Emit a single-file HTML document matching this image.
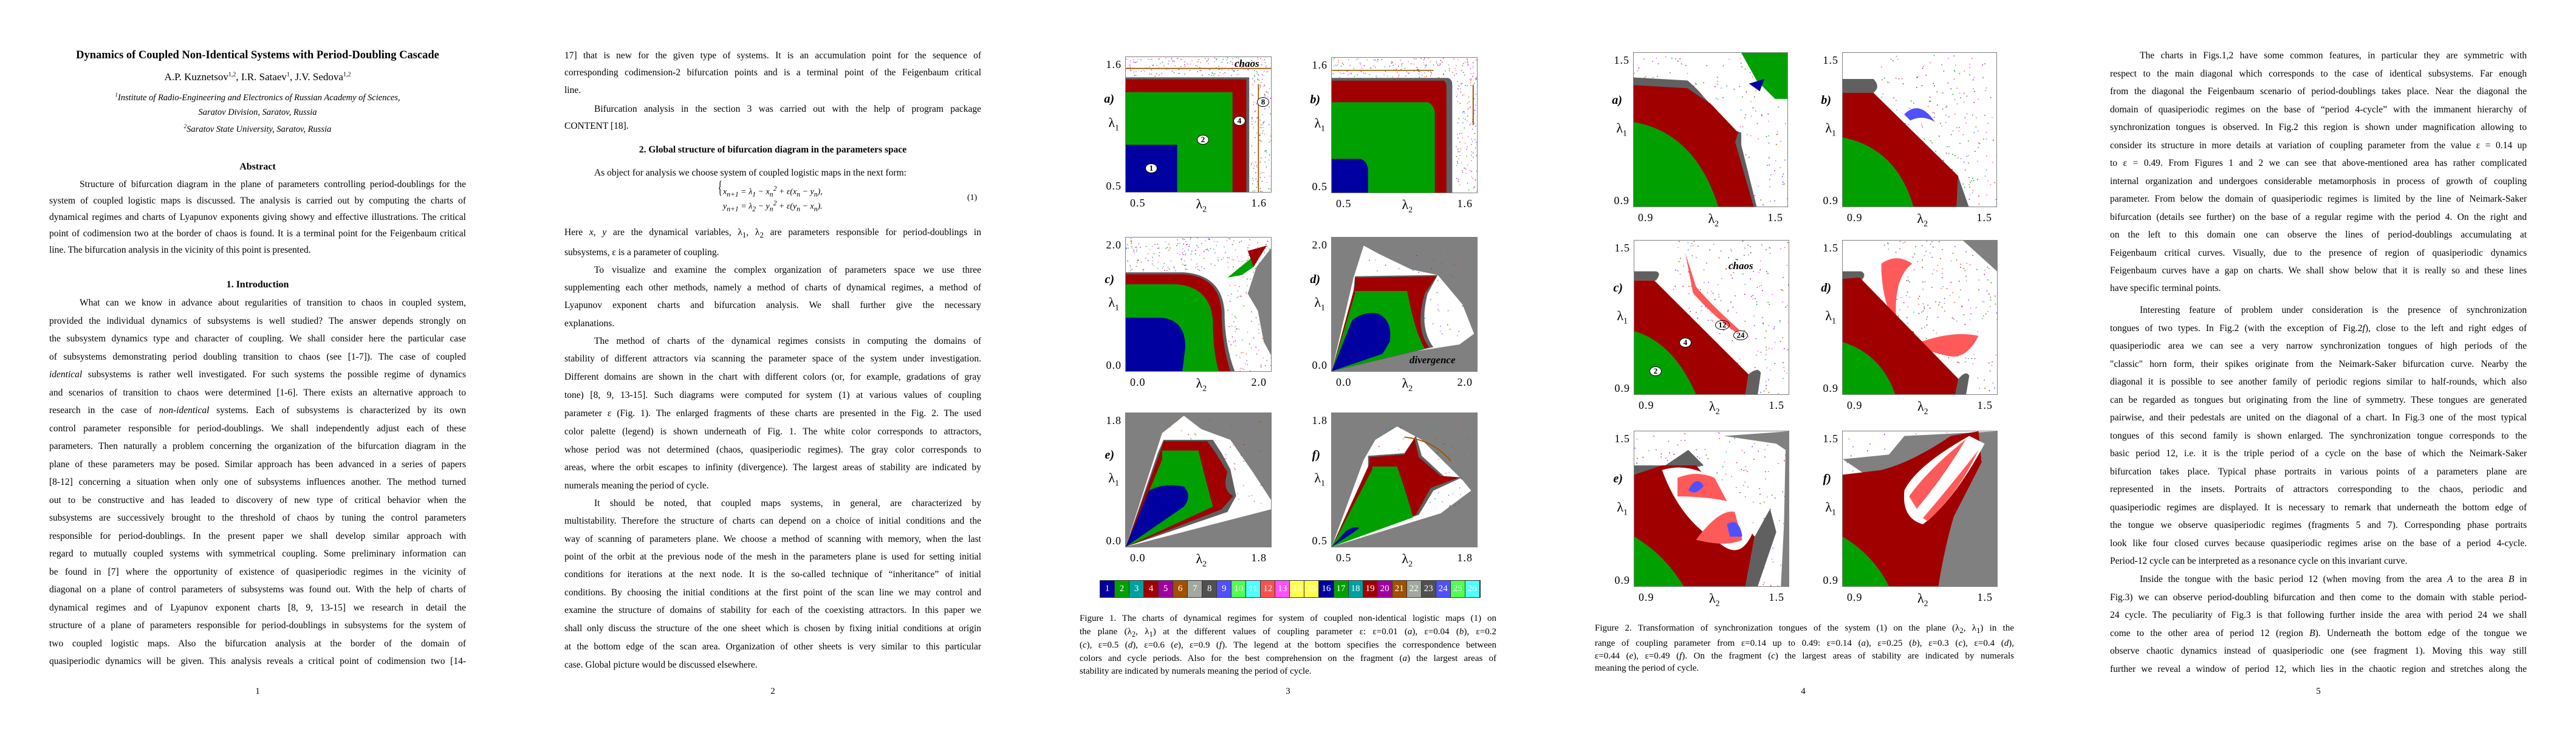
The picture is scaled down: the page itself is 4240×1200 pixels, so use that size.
<!DOCTYPE html>
<html><head><meta charset="utf-8">
<style>
html,body{margin:0;padding:0;background:#fff;}
#root{position:relative;width:4240px;height:1200px;overflow:hidden;background:#fff;font-family:"Liberation Serif",serif;color:#000;}
.ln{position:absolute;white-space:nowrap;font-size:15.5px;line-height:18px;text-align:justify;text-align-last:justify;}
.ln.e{text-align-last:left;}
.c{position:absolute;white-space:nowrap;text-align:center;transform:translateX(-50%);}
.pn{position:absolute;font-size:15px;transform:translateX(-50%);}
.panel{position:absolute;border:1px solid #808080;box-sizing:border-box;background:#fff;overflow:hidden;}
.panel svg{position:absolute;left:0;top:0;width:100%;height:100%;}
.tk{position:absolute;font-size:18px;letter-spacing:1px;white-space:nowrap;line-height:18px;}
.lab{position:absolute;font-size:20px;font-weight:bold;font-style:italic;line-height:20px;}
.lam{position:absolute;font-size:22px;line-height:22px;}
.lam sub{font-size:14px;}
.num{position:absolute;background:#fff;border-radius:50%;font-weight:bold;font-size:13px;text-align:center;line-height:14px;width:18px;height:14px;}
.cap{position:absolute;white-space:nowrap;font-size:15px;line-height:18px;text-align:justify;text-align-last:justify;}
.cap.e{text-align-last:left;}
</style></head>
<body>
<div id="root">

<!-- PAGE 1 -->
<div>
<div class="c" style="left:424px;top:81px;font-size:18.5px;font-weight:bold;">Dynamics of Coupled Non-Identical Systems with Period-Doubling Cascade</div>
<div class="c" style="left:424px;top:117px;font-size:17px;">A.P. Kuznetsov<sup style="font-size:10px">1,2</sup>, I.R. Sataev<sup style="font-size:10px">1</sup>, J.V. Sedova<sup style="font-size:10px">1,2</sup></div>
<div class="c" style="left:424px;top:151px;font-size:14.5px;font-style:italic;"><sup style="font-size:9px">1</sup>Institute of Radio-Engineering and Electronics of Russian Academy of Sciences,</div>
<div class="c" style="left:424px;top:177px;font-size:14.5px;font-style:italic;">Saratov Division, Saratov, Russia</div>
<div class="c" style="left:424px;top:203px;font-size:14.5px;font-style:italic;"><sup style="font-size:9px">2</sup>Saratov State University, Saratov, Russia</div>
<div class="c" style="left:424px;top:266px;font-size:16px;font-weight:bold;">Abstract</div>
<div>
<div class="ln" style="left:131px;width:636px;top:295px;">Structure of bifurcation diagram in the plane of parameters controlling period-doublings for the</div>
<div class="ln" style="left:81px;width:686px;top:322px;">system of coupled logistic maps is discussed. The analysis is carried out by computing the charts of</div>
<div class="ln" style="left:81px;width:686px;top:349px;">dynamical regimes and charts of Lyapunov exponents giving showy and effective illustrations. The critical</div>
<div class="ln" style="left:81px;width:686px;top:376px;">point of codimension two at the border of chaos is found. It is a terminal point for the Feigenbaum critical</div>
<div class="ln e" style="left:81px;width:686px;top:403px;">line. The bifurcation analysis in the vicinity of this point is presented.</div>
</div>
<div class="c" style="left:424px;top:460px;font-size:16px;font-weight:bold;">1. Introduction</div>
<div>
<div class="ln" style="left:131px;width:636px;top:490px;">What can we know in advance about regularities of transition to chaos in coupled system,</div>
<div class="ln" style="left:81px;width:686px;top:519.5px;">provided the individual dynamics of subsystems is well studied? The answer depends strongly on</div>
<div class="ln" style="left:81px;width:686px;top:549px;">the subsystem dynamics type and character of coupling. We shall consider here the particular case</div>
<div class="ln" style="left:81px;width:686px;top:578.5px;">of subsystems demonstrating period doubling transition to chaos (see [1-7]). The case of coupled</div>
<div class="ln" style="left:81px;width:686px;top:608px;"><i>identical</i> subsystems is rather well investigated. For such systems the possible regime of dynamics</div>
<div class="ln" style="left:81px;width:686px;top:637.5px;">and scenarios of transition to chaos were determined [1-6]. There exists an alternative approach to</div>
<div class="ln" style="left:81px;width:686px;top:667px;">research in the case of <i>non-identical</i> systems. Each of subsystems is characterized by its own</div>
<div class="ln" style="left:81px;width:686px;top:696.5px;">control parameter responsible for period-doublings. We shall independently adjust each of these</div>
<div class="ln" style="left:81px;width:686px;top:726px;">parameters. Then naturally a problem concerning the organization of the bifurcation diagram in the</div>
<div class="ln" style="left:81px;width:686px;top:755.5px;">plane of these parameters may be posed. Similar approach has been advanced in a series of papers</div>
<div class="ln" style="left:81px;width:686px;top:785px;">[8-12] concerning a situation when only one of subsystems influences another. The method turned</div>
<div class="ln" style="left:81px;width:686px;top:814.5px;">out to be constructive and has leaded to discovery of new type of critical behavior when the</div>
<div class="ln" style="left:81px;width:686px;top:844px;">subsystems are successively brought to the threshold of chaos by tuning the control parameters</div>
<div class="ln" style="left:81px;width:686px;top:873.5px;">responsible for period-doublings. In the present paper we shall develop similar approach with</div>
<div class="ln" style="left:81px;width:686px;top:903px;">regard to mutually coupled systems with symmetrical coupling. Some preliminary information can</div>
<div class="ln" style="left:81px;width:686px;top:932.5px;">be found in [7] where the opportunity of existence of quasiperiodic regimes in the vicinity of</div>
<div class="ln" style="left:81px;width:686px;top:962px;">diagonal on a plane of control parameters of subsystems was found out. With the help of charts of</div>
<div class="ln" style="left:81px;width:686px;top:991.5px;">dynamical regimes and of Lyapunov exponent charts [8, 9, 13-15] we research in detail the</div>
<div class="ln" style="left:81px;width:686px;top:1021px;">structure of a plane of parameters responsible for period-doublings in subsystems for the system of</div>
<div class="ln" style="left:81px;width:686px;top:1050.5px;">two coupled logistic maps. Also the bifurcation analysis at the border of the domain of</div>
<div class="ln" style="left:81px;width:686px;top:1080px;">quasiperiodic dynamics will be given. This analysis reveals a critical point of codimension two [14-</div>
</div>
<div class="pn" style="left:424px;top:1130px;">1</div>
</div>

<!-- PAGE 2 -->
<div>
<div class="ln" style="left:929px;width:686px;top:83px;">17] that is new for the given type of systems. It is an accumulation point for the sequence of</div>
<div class="ln" style="left:929px;width:686px;top:111px;">corresponding codimension-2 bifurcation points and is a terminal point of the Feigenbaum critical</div>
<div class="ln e" style="left:929px;width:686px;top:140px;">line.</div>
<div class="ln" style="left:978px;width:637px;top:171px;">Bifurcation analysis in the section 3 was carried out with the help of program package</div>
<div class="ln e" style="left:929px;width:686px;top:199px;">CONTENT [18].</div>
<div class="c" style="left:1272px;top:238px;font-size:15.5px;font-weight:bold;">2. Global structure of bifurcation diagram in the parameters space</div>
<div class="ln e" style="left:978px;width:637px;top:276px;">As object for analysis we choose system of coupled logistic maps in the next form:</div>
<div style="position:absolute;left:1182px;top:302px;font-size:14px;line-height:17px;font-style:italic;white-space:nowrap;">
<span style="position:absolute;left:-4px;top:-2px;font-size:30px;font-style:normal;font-weight:100;transform:scaleX(0.5);">{</span>
<div style="position:absolute;left:8px;top:0;">x<sub>n+1</sub> = λ<sub>1</sub> − x<sub>n</sub><sup>2</sup> + ε(x<sub>n</sub> − y<sub>n</sub>),</div>
<div style="position:absolute;left:8px;top:24px;">y<sub>n+1</sub> = λ<sub>2</sub> − y<sub>n</sub><sup>2</sup> + ε(y<sub>n</sub> − x<sub>n</sub>).</div>
</div>
<div style="position:absolute;left:1592px;top:318px;font-size:14px;">(1)</div>
<div class="ln" style="left:929px;width:686px;top:374px;">Here <i>x</i>, <i>y</i> are the dynamical variables, λ<sub>1</sub>, λ<sub>2</sub> are parameters responsible for period-doublings in</div>
<div class="ln e" style="left:929px;width:686px;top:407px;">subsystems, ε is a parameter of coupling.</div>
<div class="ln" style="left:978px;width:637px;top:436px;">To visualize and examine the complex organization of parameters space we use three</div>
<div class="ln" style="left:929px;width:686px;top:465px;">supplementing each other methods, namely a method of charts of dynamical regimes, a method of</div>
<div class="ln" style="left:929px;width:686px;top:494px;">Lyapunov exponent charts and bifurcation analysis. We shall further give the necessary</div>
<div class="ln e" style="left:929px;width:686px;top:524px;">explanations.</div>
<div class="ln" style="left:978px;width:637px;top:553px;">The method of charts of the dynamical regimes consists in computing the domains of</div>
<div class="ln" style="left:929px;width:686px;top:582px;">stability of different attractors via scanning the parameter space of the system under investigation.</div>
<div class="ln" style="left:929px;width:686px;top:612px;">Different domains are shown in the chart with different colors (or, for example, gradations of gray</div>
<div class="ln" style="left:929px;width:686px;top:642px;">tone) [8, 9, 13-15]. Such diagrams were computed for system (1) at various values of coupling</div>
<div class="ln" style="left:929px;width:686px;top:672px;">parameter ε (Fig. 1). The enlarged fragments of these charts are presented in the Fig. 2. The used</div>
<div class="ln" style="left:929px;width:686px;top:702px;">color palette (legend) is shown underneath of Fig. 1. The white color corresponds to attractors,</div>
<div class="ln" style="left:929px;width:686px;top:732px;">whose period was not determined (chaos, quasiperiodic regimes). The gray color corresponds to</div>
<div class="ln" style="left:929px;width:686px;top:761px;">areas, where the orbit escapes to infinity (divergence). The largest areas of stability are indicated by</div>
<div class="ln e" style="left:929px;width:686px;top:791px;">numerals meaning the period of cycle.</div>
<div class="ln" style="left:978px;width:637px;top:820px;">It should be noted, that coupled maps systems, in general, are characterized by</div>
<div class="ln" style="left:929px;width:686px;top:849px;">multistability. Therefore the structure of charts can depend on a choice of initial conditions and the</div>
<div class="ln" style="left:929px;width:686px;top:879px;">way of scanning of parameters plane. We choose a method of scanning with memory, when the last</div>
<div class="ln" style="left:929px;width:686px;top:908px;">point of the orbit at the previous node of the mesh in the parameters plane is used for setting initial</div>
<div class="ln" style="left:929px;width:686px;top:937px;">conditions for iterations at the next node. It is the so-called technique of “inheritance” of initial</div>
<div class="ln" style="left:929px;width:686px;top:967px;">conditions. By choosing the initial conditions at the first point of the scan line we may control and</div>
<div class="ln" style="left:929px;width:686px;top:996px;">examine the structure of domains of stability for each of the coexisting attractors. In this paper we</div>
<div class="ln" style="left:929px;width:686px;top:1026px;">shall only discuss the structure of the one sheet which is chosen by fixing initial conditions at origin</div>
<div class="ln" style="left:929px;width:686px;top:1056px;">at the bottom edge of the scan area. Organization of other sheets is very similar to this particular</div>
<div class="ln e" style="left:929px;width:686px;top:1086px;">case. Global picture would be discussed elsewhere.</div>
<div class="pn" style="left:1272px;top:1130px;">2</div>
</div>

<!-- PAGE 3 -->
<div id="fig1">
<div id="legend" style="position:absolute;left:1810px;top:955px;width:627px;height:29px;border:1px solid #333;box-sizing:border-box;display:flex;"></div>
<div>
<div class="cap" style="left:1777px;width:686px;top:1009px;">Figure 1. The charts of dynamical regimes for system of coupled non-identical logistic maps (1) on</div>
<div class="cap" style="left:1777px;width:686px;top:1031px;">the plane (λ<sub>2</sub>, λ<sub>1</sub>) at the different values of coupling parameter ε: ε=0.01 (<i>a</i>), ε=0.04 (<i>b</i>), ε=0.2</div>
<div class="cap" style="left:1777px;width:686px;top:1053px;">(<i>c</i>), ε=0.5 (<i>d</i>), ε=0.6 (<i>e</i>), ε=0.9 (<i>f</i>). The legend at the bottom specifies the correspondence between</div>
<div class="cap" style="left:1777px;width:686px;top:1075px;">colors and cycle periods. Also for the best comprehension on the fragment (<i>a</i>) the largest areas of</div>
<div class="cap e" style="left:1777px;width:686px;top:1096px;">stability are indicated by numerals meaning the period of cycle.</div>
</div>
<div class="pn" style="left:2120px;top:1130px;">3</div>
</div>

<!-- PAGE 4 -->
<div id="fig2">
<div>
<div class="cap" style="left:2625px;width:690px;top:1025px;">Figure 2. Transformation of synchronization tongues of the system (1) on the plane (λ<sub>2</sub>, λ<sub>1</sub>) in the</div>
<div class="cap" style="left:2625px;width:690px;top:1050px;">range of coupling parameter from ε=0.14 up to 0.49: ε=0.14 (<i>a</i>), ε=0.25 (<i>b</i>), ε=0.3 (<i>c</i>), ε=0.4 (<i>d</i>),</div>
<div class="cap" style="left:2625px;width:690px;top:1071px;">ε=0.44 (<i>e</i>), ε=0.49 (<i>f</i>). On the fragment (<i>c</i>) the largest areas of stability are indicated by numerals</div>
<div class="cap e" style="left:2625px;width:690px;top:1091px;">meaning the period of cycle.</div>
</div>
<div class="pn" style="left:2968px;top:1130px;">4</div>
</div>

<!-- PAGE 5 -->
<div>
<div class="ln" style="left:3522px;width:637px;top:83px;">The charts in Figs.1,2 have some common features, in particular they are symmetric with</div>
<div class="ln" style="left:3473px;width:686px;top:112.5px;">respect to the main diagonal which corresponds to the case of identical subsystems. Far enough</div>
<div class="ln" style="left:3473px;width:686px;top:142px;">from the diagonal the Feigenbaum scenario of period-doublings takes place. Near the diagonal the</div>
<div class="ln" style="left:3473px;width:686px;top:171.5px;">domain of quasiperiodic regimes on the base of “period 4-cycle” with the immanent hierarchy of</div>
<div class="ln" style="left:3473px;width:686px;top:201px;">synchronization tongues is observed. In Fig.2 this region is shown under magnification allowing to</div>
<div class="ln" style="left:3473px;width:686px;top:230.5px;">consider its structure in more details at variation of coupling parameter from the value ε = 0.14 up</div>
<div class="ln" style="left:3473px;width:686px;top:260px;">to ε = 0.49. From Figures 1 and 2 we can see that above-mentioned area has rather complicated</div>
<div class="ln" style="left:3473px;width:686px;top:289.5px;">internal organization and undergoes considerable metamorphosis in process of growth of coupling</div>
<div class="ln" style="left:3473px;width:686px;top:319px;">parameter. From below the domain of quasiperiodic regimes is limited by the line of Neimark-Saker</div>
<div class="ln" style="left:3473px;width:686px;top:348.5px;">bifurcation (details see further) on the base of a regular regime with the period 4. On the right and</div>
<div class="ln" style="left:3473px;width:686px;top:378px;">on the left to this domain one can observe the lines of period-doublings accumulating at</div>
<div class="ln" style="left:3473px;width:686px;top:407.5px;">Feigenbaum critical curves. Visually, due to the presence of region of quasiperiodic dynamics</div>
<div class="ln" style="left:3473px;width:686px;top:437px;">Feigenbaum curves have a gap on charts. We shall show below that it is really so and these lines</div>
<div class="ln e" style="left:3473px;width:686px;top:466px;">have specific terminal points.</div>
<div class="ln" style="left:3522px;width:637px;top:502px;">Interesting feature of problem under consideration is the presence of synchronization</div>
<div class="ln" style="left:3473px;width:686px;top:531.5px;">tongues of two types. In Fig.2 (with the exception of Fig.2<i>f</i>), close to the left and right edges of</div>
<div class="ln" style="left:3473px;width:686px;top:561px;">quasiperiodic area we can see a very narrow synchronization tongues of high periods of the</div>
<div class="ln" style="left:3473px;width:686px;top:590.5px;">"classic" horn form, their spikes originate from the Neimark-Saker bifurcation curve. Nearby the</div>
<div class="ln" style="left:3473px;width:686px;top:620px;">diagonal it is possible to see another family of periodic regions similar to half-rounds, which also</div>
<div class="ln" style="left:3473px;width:686px;top:649.5px;">can be regarded as tongues but originating from the line of symmetry. These tongues are generated</div>
<div class="ln" style="left:3473px;width:686px;top:679px;">pairwise, and their pedestals are united on the diagonal of a chart. In Fig.3 one of the most typical</div>
<div class="ln" style="left:3473px;width:686px;top:708.5px;">tongues of this second family is shown enlarged. The synchronization tongue corresponds to the</div>
<div class="ln" style="left:3473px;width:686px;top:738px;">basic period 12, i.e. it is the triple period of a cycle on the base of which the Neimark-Saker</div>
<div class="ln" style="left:3473px;width:686px;top:767.5px;">bifurcation takes place. Typical phase portraits in various points of a parameters plane are</div>
<div class="ln" style="left:3473px;width:686px;top:797px;">represented in the insets. Portraits of attractors corresponding to the chaos, periodic and</div>
<div class="ln" style="left:3473px;width:686px;top:826.5px;">quasiperiodic regimes are displayed. It is necessary to remark that underneath the bottom edge of</div>
<div class="ln" style="left:3473px;width:686px;top:856px;">the tongue we observe quasiperiodic regimes (fragments 5 and 7). Corresponding phase portraits</div>
<div class="ln" style="left:3473px;width:686px;top:885.5px;">look like four closed curves because quasiperiodic regimes arise on the base of a period 4-cycle.</div>
<div class="ln e" style="left:3473px;width:686px;top:915px;">Period-12 cycle can be interpreted as a resonance cycle on this invariant curve.</div>
<div class="ln" style="left:3522px;width:637px;top:945px;">Inside the tongue with the basic period 12 (when moving from the area <i>A</i> to the area <i>B</i> in</div>
<div class="ln" style="left:3473px;width:686px;top:974.5px;">Fig.3) we can observe period-doubling bifurcation and then come to the domain with stable period-</div>
<div class="ln" style="left:3473px;width:686px;top:1004px;">24 cycle. The peculiarity of Fig.3 is that following further inside the area with period 24 we shall</div>
<div class="ln" style="left:3473px;width:686px;top:1033.5px;">come to the other area of period 12 (region <i>B</i>). Underneath the bottom edge of the tongue we</div>
<div class="ln" style="left:3473px;width:686px;top:1063px;">observe chaotic dynamics instead of quasiperiodic one (see fragment 1). Moving this way still</div>
<div class="ln" style="left:3473px;width:686px;top:1092.5px;">further we reveal a window of period 12, which lies in the chaotic region and stretches along the</div>
<div class="pn" style="left:3816px;top:1130px;">5</div>
</div>

</div>
<script>
// Legend data
const legendPeriods = ['1','2','3','4','5','6','7','8','9','10','11','12','13','14','15','16','17','18','19','20','21','22','23','24','25','26'];
const legendColors = ['#0000a0','#00a000','#00a0a0','#a00000','#a000a0','#a05000','#a0a8a0','#505050','#5050ff','#50ff50','#50ffff','#ff5050','#ff50ff','#ffff50','#ffff50','#0000a0','#00a000','#00a0a0','#a00000','#a000a0','#a05000','#a0a8a0','#505050','#5050ff','#50ff50','#50ffff'];

const R='#a00000',G='#00a000',B='#0000a0',D='#606060',S='#ff5a5a',L='#5050ff',GR='#808080';

const legend=document.getElementById('legend');
legendPeriods.forEach((p,i)=>{
  const c=document.createElement('div');
  
  
  c.style.cssText='flex:1;background:'+legendColors[i]+';color:#fff;font-size:15px;text-align:center;line-height:27px;border-right:1px solid #333;';
  c.textContent=p;
  legend.appendChild(c);
});

function panel(parent,name,x,y,w,h,bg,inner,lab,t0,t1,b0,b1){
  const root=document.getElementById(parent);
  const g=document.createElement('div');
  
  
  const p=document.createElement('div');
  p.className='panel';
  
  
  p.style.cssText=`left:${x}px;top:${y}px;width:${w}px;height:${h}px;background:${bg};`;
  p.innerHTML=`<svg viewBox="0 0 100 100" preserveAspectRatio="none">${inner}</svg>`;
  g.appendChild(p);
  const add=(cls,txt,css,nm)=>{const e=document.createElement('div');e.className=cls;e.innerHTML=txt;e.style.cssText=css;
    
    
    g.appendChild(e);};
  add('tk',t0,`right:${4240-x+6}px;top:${y+4}px;`,'y-tick-top');
  add('tk',t1,`right:${4240-x+6}px;top:${y+h-20}px;`,'y-tick-bottom');
  add('tk',b0,`left:${x+8}px;top:${y+h+8}px;`,'x-tick-left');
  add('tk',b1,`right:${4240-x-w+8}px;top:${y+h+8}px;`,'x-tick-right');
  add('lam','λ<sub>2</sub>',`left:${x+w/2-4}px;top:${y+h+8}px;`,'x-axis-title');
  add('lam','λ<sub>1</sub>',`right:${4240-x+10}px;top:${y+h*0.5-14}px;`,'y-axis-title');
  add('lab',lab,`right:${4240-x+18}px;top:${y+h*0.27}px;`,'panel-label');
  root.appendChild(g);
  return g;
}
function dots(n,seed,x0,x1,y0,y1){
  let s='';let r=seed;
  const cols=['#a05000','#5050ff','#00a000','#ff50ff','#50a0a0','#ff5050','#a000a0'];
  for(let i=0;i<n;i++){r=(r*9301+49297)%233280;const a=r/233280;r=(r*9301+49297)%233280;const b=r/233280;
    s+=`<rect x="${x0+a*(x1-x0)}" y="${y0+b*(y1-y0)}" width="0.6" height="0.6" fill="${cols[i%7]}"/>`;}
  return s;
}
// Figure 1
panel('fig1','fig1-panel-a',1852,93,241,224,'#fff',
 dots(160,3,0,100,0,14)+dots(120,7,86,100,14,100)+
 `<rect x="0" y="8" width="100" height="0.8" fill="#a05000"/><rect x="91" y="20" width="0.7" height="80" fill="#a05000"/>
 <rect x="0" y="15" width="85" height="85" fill="${D}"/><rect x="0" y="16.5" width="83" height="83.5" fill="${R}"/>
 <rect x="0" y="26" width="73.5" height="74" fill="${G}"/><rect x="0" y="65" width="35.4" height="35" fill="${B}"/>`,
 'a)','1.6','0.5','0.5','1.6');
panel('fig1','fig1-panel-b',2191,94,241,224,'#fff',
 dots(160,11,0,100,0,15)+dots(120,13,85,100,15,100)+
 `<rect x="0" y="9" width="70" height="0.7" fill="#a05000"/><rect x="97" y="20" width="0.8" height="30" fill="#a05000"/>
 <path d="M0,15 L80,15 Q83,16 83,20 L83,100 L0,100Z" fill="${D}"/><path d="M0,17 L77,17 Q79,18 79,22 L79,100 L0,100Z" fill="${R}"/>
 <path d="M0,33 L66,33 Q71,35 71,42 L71,100 L0,100Z" fill="${G}"/><path d="M0,75 L20,75 Q25,77 25,84 L25,100 L0,100Z" fill="${B}"/>`,
 'b)','1.6','0.5','0.5','1.6');
panel('fig1','fig1-panel-c',1852,390,241,222,'#fff',
 dots(200,17,0,100,0,25)+dots(100,19,70,100,25,100)+
 `<path d="M90,22 L100,8 L100,88 L95,78 L91,55 L84,42 Z" fill="${GR}"/>
 <path d="M70,30 L97,6 L88,22 L80,28Z" fill="${G}"/><path d="M84,10 L97,6 L88,22Z" fill="${R}"/>
 <path d="M0,26 L40,26 Q66,28 68,55 Q68,80 75,100 L0,100Z" fill="${D}"/>
 <path d="M0,27.5 L40,27.5 Q64,29 66,55 Q66,80 72,100 L0,100Z" fill="${R}"/>
 <path d="M0,35 L35,35 Q58,37 60,62 Q60,85 64,100 L0,100Z" fill="${G}"/>
 <path d="M0,60 L25,60 Q41,62 41,82 L39,100 L0,100Z" fill="${B}"/>`,
 'c)','2.0','0.0','0.0','2.0');
panel('fig1','fig1-panel-d',2191,390,241,222,GR,
 `<path d="M15,30 L22,6 L32,12 L55,24 L73,28 L90,50 L98,72 L88,80 L70,83 L40,88 L0,100Z" fill="#fff"/>`+dots(80,23,25,90,10,75)+
 `<path d="M0,100 L15,40 L16,29 L73,28 L66,42 Q60,68 70,82 L0,100Z" fill="${D}"/>
 <path d="M0,100 L16,36 L16,30 L72,29 L64,42 Q57,68 67,82 L0,100Z" fill="${R}"/>
 <path d="M0,100 L16,42 L16,40 L52,40 Q57,70 64,83Z" fill="${G}"/>
 <path d="M0,100 L14,62 Q22,55 32,57 Q42,62 40,78 L35,87Z" fill="${B}"/>`,
 'd)','2.0','0.0','0.0','2.0');
panel('fig1','fig1-panel-e',1852,679,241,222,GR,
 `<path d="M25,15 L40,2 L52,12 L72,20 L88,45 L100,65 L100,72 L0,100Z" fill="#fff"/>`+dots(80,29,30,95,5,70)+
 `<path d="M0,100 L22,30 L26,20 L60,20 L66,30 L72,42 L76,62 L70,74 L0,100Z" fill="${D}"/>
 <path d="M0,100 L24,28 L26,21 L56,21 L62,30 L70,44 Q66,58 74,62 L66,72Z" fill="${R}"/>
 <path d="M0,100 L25,35 L25,28 L50,28 Q55,50 60,70Z" fill="${G}"/>
 <path d="M0,100 L16,58 Q26,52 40,55 Q46,62 40,70Z" fill="${B}"/>`,
 'e)','1.8','0.0','0.0','1.8');
panel('fig1','fig1-panel-f',2191,679,241,222,GR,
 `<path d="M22,35 L30,20 L45,10 L62,20 L90,50 L96,58 L75,75 L0,100Z" fill="#fff"/>`+dots(80,31,30,95,10,70)+
 `<path d="M0,100 L25,40 L25,32 L50,30 L58,17 L62,32 L78,48 L90,48 L70,58 L60,76Z" fill="${D}"/>
 <path d="M0,100 L26,38 L26,33 L50,31 L57,19 L60,33 L75,47 L88,48 L68,56 L58,76Z" fill="${R}"/>
 <path d="M0,100 L28,42 L28,40 L45,40 Q52,62 56,78Z" fill="${G}"/>
 <path d="M0,100 L10,88 Q16,84 19,86 L14,90Z" fill="${B}"/>
 <path d="M50,18 Q70,20 82,36" stroke="#a05000" stroke-width="0.8" fill="none"/>`,
 'f)','1.8','0.5','0.5','1.8');

// Figure 2
panel('fig2','fig2-panel-a',2688,86,255,255,'#fff',
 dots(250,37,0,100,0,100)+
 `<path d="M70,0 L100,0 L100,30 L92,30 L80,18 Z" fill="${G}"/>
 <path d="M0,16 L35,18 Q42,24 45,28 L65,50 L70,52 L70,60 L80,100 L0,100Z" fill="${D}"/>
 <path d="M0,21 L35,23 Q45,30 50,33 L68,52 L66,58 L78,100 L0,100Z" fill="${R}"/>
 <path d="M0,45 Q40,52 55,100 L0,100Z" fill="${G}"/>
 <path d="M75,20 L85,17 L82,25Z" fill="${B}"/>`,
 'a)','1.5','0.9','0.9','1.5');
panel('fig2','fig2-panel-b',3032,86,255,255,'#fff',
 dots(250,41,25,100,0,100)+
 `<path d="M0,17 L20,17 Q25,22 20,26 L0,26Z" fill="${D}"/>
 <path d="M0,26 L20,26 L75,80 L82,100 L0,100Z" fill="${D}"/>
 <path d="M0,26 L20,26 L75,80 L74,100 L0,100Z" fill="${R}"/>
 <path d="M0,55 Q35,62 46,100 L0,100Z" fill="${G}"/>
 <path d="M40,40 Q50,30 60,45 Q52,40 44,44Z" fill="${L}"/>`,
 'b)','1.5','0.9','0.9','1.5');
panel('fig2','fig2-panel-c',2689,395,256,255,'#fff',
 dots(250,43,25,100,0,100)+
 `<path d="M0,20 L14,20 Q18,21 14,26 L0,26Z" fill="${D}"/>
 <path d="M33,8 L40,30 Q50,42 68,58 L66,60 Q50,48 38,34 Z" fill="${S}"/>
 <path d="M0,26 L13,26 L74,87 L72,100 L0,100Z" fill="${R}"/>
 <path d="M74,87 Q80,82 82,86 L80,100 L72,100Z" fill="${D}"/>
 <path d="M0,59 Q25,66 40,100 L0,100Z" fill="${G}"/>`,
 'c)','1.5','0.9','0.9','1.5');
panel('fig2','fig2-panel-d',3032,395,256,255,'#fff',
 dots(250,47,25,100,0,100)+
 `<path d="M78,0 L100,0 L100,20 Z" fill="${GR}"/>
 <path d="M0,20 L12,20 Q16,22 12,26 L0,26Z" fill="${D}"/>
 <path d="M25,15 Q35,8 45,15 Q32,25 35,55 Q25,40 25,15Z" fill="${S}"/>
 <path d="M45,68 Q70,58 88,62 Q80,78 68,75 Q55,72 45,68Z" fill="${S}"/>
 <path d="M0,25 L11,24 L75,90 L73,100 L0,100Z" fill="${R}"/>
 <path d="M75,90 Q80,84 82,88 L80,100 L73,100Z" fill="${D}"/>
 <path d="M0,66 Q25,74 34,100 L0,100Z" fill="${G}"/>`,
 'd)','1.5','0.9','0.9','1.5');
panel('fig2','fig2-panel-e',2689,709,256,257,'#fff',
 dots(220,53,0,100,0,100)+
 `<path d="M58,3 L100,0 L100,100 L95,100 L97,60 L98,12 L92,8Z" fill="${GR}"/>
 <path d="M0,22 L20,22 L35,12 L45,22 L12,30 L0,30Z" fill="${D}"/>
 <path d="M0,28 L18,22 L40,22 L78,68 L72,100 L0,100Z" fill="${R}"/>
 <path d="M18,25 Q40,18 65,40 L78,62 Q70,85 55,72 Q30,58 18,25Z" fill="#fff"/>
 <path d="M28,30 Q40,25 52,30 L60,45 Q45,42 28,42Z" fill="${S}"/>
 <path d="M40,70 Q55,50 65,52 L70,70 Q60,75 40,70Z" fill="${S}"/>
 <path d="M35,38 Q40,28 45,35 Q40,42 35,38Z" fill="${L}"/>
 <path d="M60,60 Q68,55 70,68 L62,68Z" fill="${L}"/>
 <path d="M72,100 L78,68 L88,50 L92,65 L80,100Z" fill="${D}"/>
 <path d="M0,68 Q20,80 32,100 L0,100Z" fill="${G}"/>`,
 'e)','1.5','0.9','0.9','1.5');
panel('fig2','fig2-panel-f',3032,709,256,257,'#fff',
 dots(150,59,0,100,0,100)+
 `<path d="M0,18 L30,15 L40,3 L100,0 L100,100 L60,100 L66,62Z" fill="${GR}"/>
 <path d="M0,28 L25,25 Q45,20 70,3 L88,0 L90,20 L72,55 Q66,75 62,100 L0,100Z" fill="${R}"/>
 <path d="M40,38 Q48,22 82,3 L92,8 Q72,45 52,60 Q38,56 40,38Z" fill="#fff"/>
 <path d="M43,42 Q55,25 80,5 Q65,30 48,50Z" fill="${S}"/>
 <path d="M52,56 Q70,35 88,12 Q75,40 55,58Z" fill="${S}"/>
 <path d="M0,68 Q20,80 30,100 L0,100Z" fill="${G}"/>`,
 'f)','1.5','0.9','0.9','1.5');

// annotations
function note(parent,txt,x,y,css,nm){const e=document.createElement('div');e.innerHTML=txt;e.style.cssText='position:absolute;left:'+x+'px;top:'+y+'px;'+css;
  
  
  document.getElementById(parent).appendChild(e);}
const nb='width:18px;height:14px;background:#fff;border-radius:50%;font-weight:bold;font-size:13px;text-align:center;line-height:14px;border:1px solid #000;';
note('fig1','chaos',2032,95,'font-size:17px;font-weight:bold;font-style:italic;','chaos-label');
note('fig1','1',1885,269,nb,'period-1-marker');
note('fig1','2',1970,222,nb,'period-2-marker');
note('fig1','4',2030,191,nb,'period-4-marker');
note('fig1','8',2069,160,nb,'period-8-marker');
note('fig1','divergence',2320,583,'font-size:17px;font-weight:bold;font-style:italic;','divergence-label');
note('fig2','chaos',2845,428,'font-size:17px;font-weight:bold;font-style:italic;','chaos-label-fig2');
note('fig2','4',2764,556,nb,'period-4-marker-fig2');
note('fig2','2',2715,603,nb,'period-2-marker-fig2');
note('fig2','12',2823,527,nb+'width:22px;background:transparent;','period-12-marker');
note('fig2','24',2853,544,nb+'width:22px;','period-24-marker');
</script>
</body></html>
